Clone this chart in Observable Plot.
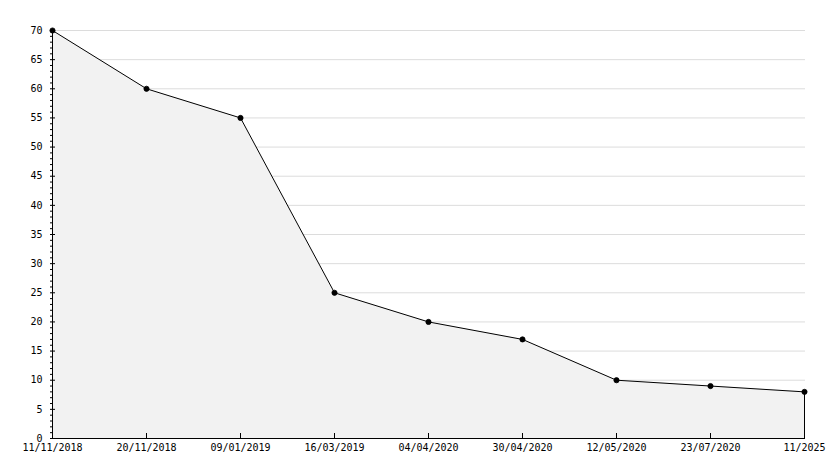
<!DOCTYPE html>
<html>
<head>
<meta charset="utf-8">
<script src="https://cdn.jsdelivr.net/npm/d3@7"></script>
<script src="https://cdn.jsdelivr.net/npm/@observablehq/plot@0.6"></script>
<style>
  html, body { margin: 0; padding: 0; background: #fff; }
  svg { display: block; }
</style>
</head>
<body>
<div id="chart"></div>
<script>
const dates = ["11/11/2018", "20/11/2018", "09/01/2019", "16/03/2019", "04/04/2020", "30/04/2020", "12/05/2020", "23/07/2020", "11/2025"];
const values = [70, 60, 55, 25, 20, 17, 10, 9, 8];
const majorTicks = d3.range(0, 71, 5);
const minorTicks = d3.range(0, 71, 1).filter(v => v % 5 !== 0);

const data = dates.map((d, i) => ({date: d, value: values[i]}));
const last = data[data.length - 1];

const chart = Plot.plot({
  width: 834,
  height: 468,
  marginLeft: 50,
  marginRight: 29,
  marginTop: 30,
  marginBottom: 30,
  style: {fontFamily: "'DejaVu Sans Mono', monospace", fontSize: "10px", color: "#000", background: "#fff"},
  x: {type: "point", domain: dates, padding: 0},
  y: {domain: [0, 70]},
  marks: [
    Plot.ruleY(majorTicks.filter(v => v > 0), {stroke: "#dcdcdc", strokeOpacity: 1}),
    Plot.areaY(data, {x: "date", y: "value", fill: "#f2f2f2"}),
    Plot.ruleX([last], {x: "date", y1: 0, y2: "value", stroke: "#000"}),
    Plot.lineY(data, {x: "date", y: "value", stroke: "#000", strokeWidth: 1}),
    Plot.dot(data, {x: "date", y: "value", r: 2.6, fill: "#000", stroke: "#000", strokeWidth: 0.8}),
    Plot.ruleX([dates[0]], {y1: 0, y2: 70, stroke: "#000"}),
    Plot.ruleY([0], {stroke: "#000"}),
    Plot.axisY(majorTicks, {anchor: "left", tickSize: -5, tickPadding: 13, label: null, fill: "#000"}),
    Plot.axisY(minorTicks, {anchor: "left", tickSize: -3, text: null, label: null}),
    Plot.axisX(dates, {anchor: "bottom", tickSize: -5, tickPadding: 10.5, label: null, fill: "#000"})
  ]
});
document.getElementById("chart").appendChild(chart);
</script>
</body>
</html>
